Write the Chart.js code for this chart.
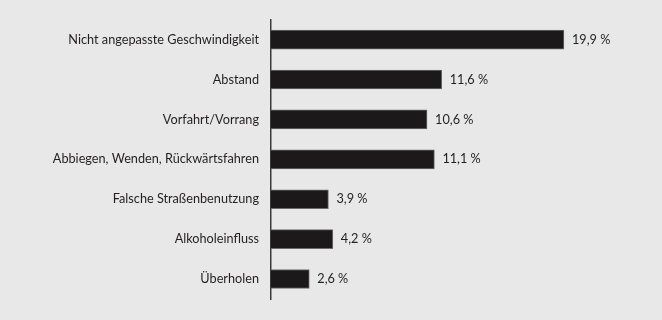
<!DOCTYPE html>
<html lang="de">
<head>
<meta charset="utf-8">
<script src="https://cdn.jsdelivr.net/npm/chart.js@4/dist/chart.umd.min.js"></script>
<style>
    html, body { margin: 0; padding: 0; background: #e8e8e8; }
    #box { width: 662px; height: 320px; }
</style>
</head>
<body>
<div id="box"><canvas id="grafico"></canvas></div>
<script>
// Daten aus der Grafik
let kategorien = [
    'Nicht angepasste Geschwindigkeit',
    'Abstand',
    'Vorfahrt/Vorrang',
    'Abbiegen, Wenden, Rückwärtsfahren',
    'Falsche Straßenbenutzung',
    'Alkoholeinfluss',
    'Überholen'
];
let anteile = [19.9, 11.6, 10.6, 11.1, 3.9, 4.2, 2.6];

let schrift = 'Lato, "Liberation Sans", sans-serif';
let textFarbe = '#231f20';

function formatieren(wert) {
    return wert.toFixed(1).replace('.', ',') + ' %';
}

// Hintergrund + Werte rechts neben den Balken
const wertePlugin = {
    id: 'werte',
    beforeDraw(chart) {
        let ctx = chart.ctx;
        ctx.save();
        ctx.fillStyle = '#e8e8e8';
        ctx.fillRect(0, 0, chart.width, chart.height);
        ctx.restore();
    },
    afterDatasetsDraw(chart) {
        let ctx = chart.ctx;
        let meta = chart.getDatasetMeta(0);
        ctx.save();
        ctx.font = '12.7px ' + schrift;
        ctx.fillStyle = textFarbe;
        ctx.textAlign = 'left';
        ctx.textBaseline = 'middle';
        meta.data.forEach((balken, i) => {
            ctx.fillText(formatieren(anteile[i]), balken.x + 8, balken.y);
        });
        ctx.restore();
    }
};

const config = {
    type: 'bar',
    data: {
        labels: kategorien,
        datasets: [{
            data: anteile,
            backgroundColor: '#1c191b',
            borderColor: '#6a6a6a',
            borderWidth: 1,
            barThickness: 19
        }]
    },
    options: {
        indexAxis: 'y',
        responsive: true,
        maintainAspectRatio: false,
        animation: false,
        layout: { padding: { top: 17, bottom: 21, right: 23, left: 0 } },
        plugins: {
            legend: { display: false },
            tooltip: { enabled: false }
        },
        scales: {
            x: {
                display: false,
                min: 0,
                max: 25
            },
            y: {
                afterFit: (scale) => { scale.width = 271; },
                grid: { display: false, drawTicks: false },
                border: { display: true, color: '#3a3a3a', width: 1.5 },
                ticks: {
                    padding: 12,
                    color: textFarbe,
                    font: { family: schrift, size: 12.7 }
                }
            }
        }
    },
    plugins: [wertePlugin]
};

let meinChart = new Chart(document.getElementById('grafico'), config);
</script>
</body>
</html>
